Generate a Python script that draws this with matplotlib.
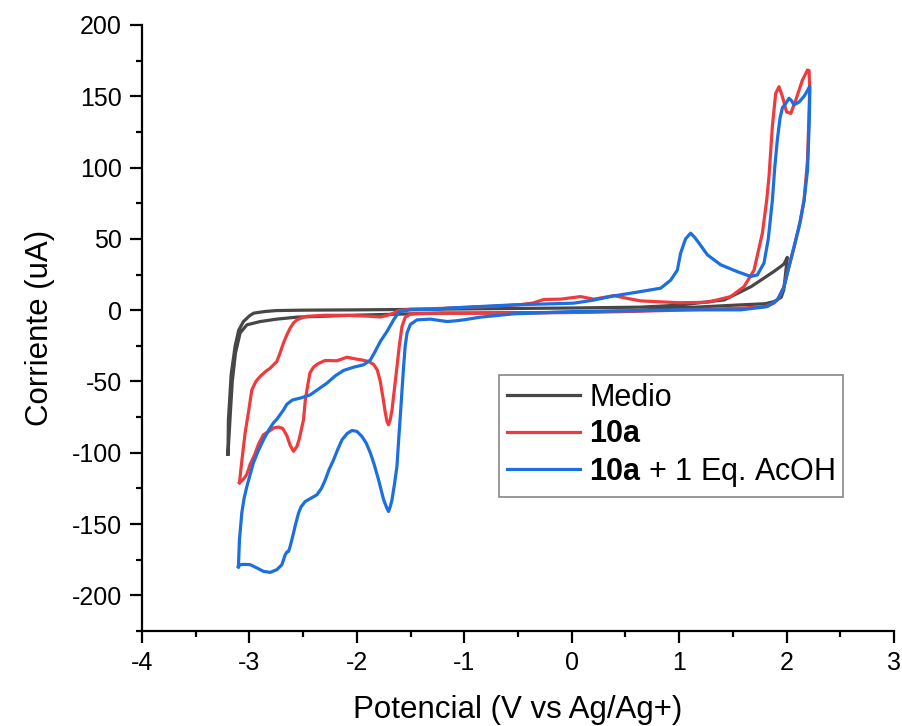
import numpy as np
import matplotlib
matplotlib.use('Agg')
import matplotlib.pyplot as plt
from matplotlib.ticker import MultipleLocator

plt.rcParams['font.family'] = ['Liberation Sans', 'DejaVu Sans']
plt.rcParams['mathtext.fontset'] = 'custom'
plt.rcParams['mathtext.rm'] = 'Liberation Sans'
plt.rcParams['mathtext.bf'] = 'Liberation Sans:bold'
plt.rcParams['axes.unicode_minus'] = False

# Medio (blank) - closed loop, left vertex -> right vertex -> back
medio_v = [-3.2, -3.196, -3.17, -3.133, -3.1, -3.056, -3.0, -2.96, -2.85, -2.75, -2.5, -2.0,
           -1.5, -1.22, -0.5, 0.0, 0.64, 1.0, 1.42, 1.67, 1.8, 1.88, 1.946, 1.977, 2.007,
           1.99, 1.974, 1.95, 1.884, 1.8, 1.573, 1.0, 0.64, 0.0, -0.5, -1.22, -2.0, -2.56,
           -2.745, -2.9, -3.024, -3.087, -3.13, -3.16, -3.18, -3.2]
medio_i = [-101, -77, -45, -25, -14, -8, -4, -2.1, -0.9, -0.3, 0, 0.2,
           0.5, 0.7, 1.2, 1.5, 2.1, 3.5, 7.2, 16.5, 23, 27, 30.6, 32.5, 37,
           25, 14.2, 9, 6, 4.5, 3.7, 1.5, -0.3, -1.5, -1.8, -2.1, -3.5, -4.9,
           -6.3, -8, -10.3, -16, -30, -50, -75, -101]

# 10a
red_v = [-3.093, -3.07, -3.04, -3.01, -2.978, -2.94, -2.9, -2.85, -2.807, -2.745, -2.715,
         -2.683, -2.65, -2.621, -2.59, -2.558, -2.5, -2.465, -2.3, -2.1, -1.9, -1.782, -1.72,
         -1.658, -1.61, -1.5, -1.22, -0.8, -0.5, -0.36, -0.26, -0.105, 0.082, 0.206, 0.393,
         0.5, 0.64, 1.0, 1.263, 1.48, 1.604, 1.697, 1.775, 1.815, 1.837, 1.868, 1.899, 1.93,
         1.962, 2.0, 2.04, 2.086, 2.148, 2.195, 2.21,
         2.215, 2.21, 2.195, 2.163, 2.13, 2.101, 2.07, 2.039, 2.0, 1.977, 1.93, 1.884, 1.8,
         1.573, 1.0, 0.5, 0.0, -0.5, -1.0, -1.223, -1.44, -1.502, -1.55, -1.58, -1.605,
         -1.627, -1.65, -1.673, -1.69, -1.705, -1.72, -1.735, -1.76, -1.782, -1.81, -1.845,
         -1.891, -1.95, -2.0, -2.092, -2.186, -2.295, -2.36, -2.404, -2.437, -2.465, -2.48,
         -2.497, -2.512, -2.535, -2.558, -2.59, -2.62, -2.652, -2.69, -2.73, -2.77, -2.807,
         -2.87, -2.916, -2.95, -2.993, -3.024, -3.055, -3.093]
red_i = [-121, -105, -86, -72, -56, -50, -46.5, -43, -40.7, -36, -30,
         -23, -17, -12.6, -9, -6.8, -5, -4.3, -3.6, -3.6, -4.2, -4.8, -3.8,
         -2.1, -0.3, 0.7, 1.2, 2.5, 3.7, 5, 7.5, 7.7, 9.5, 7.7, 10.2,
         8.5, 6.5, 5.2, 5.5, 9.5, 16.5, 28, 54, 77, 94, 129, 152, 156.7,
         149.7, 139, 138, 147.4, 161.4, 168.4, 168,
         155, 140, 105, 77, 63, 54, 44, 35.3, 24, 16.5, 9, 4.9, 2.5,
         1.4, 0, -1, -1.7, -2, -2.2, -2.1, -2.3, -2.8, -5, -11.5, -25,
         -40, -55, -70, -77, -80.4, -78, -72, -60, -50, -42, -38,
         -36, -35, -34.4, -33, -35.5, -35.3, -37.5, -40, -44, -56, -63,
         -77, -82, -90, -95.6, -99, -95, -88, -83, -82, -82.5, -84.4,
         -87.4, -94, -101, -108, -115, -118.5, -121]

# 10a + 1 Eq. AcOH
blue_v = [-3.103, -3.093, -3.071, -3.05, -3.024, -2.963, -2.92, -2.87, -2.82, -2.776, -2.745,
          -2.683, -2.652, -2.6, -2.528, -2.434, -2.35, -2.279, -2.2, -2.124, -2.03, -1.937,
          -1.875, -1.83, -1.782, -1.72, -1.69, -1.658, -1.62, -1.596, -1.502, -1.223, -1.16,
          -0.54, 0.02, 0.2, 0.393, 0.64, 0.828, 0.921, 0.983, 1.014, 1.06, 1.107, 1.145, 1.185,
          1.263, 1.387, 1.542, 1.667, 1.728, 1.79, 1.83, 1.868, 1.89, 1.915, 1.94, 1.962, 1.993,
          2.023, 2.045, 2.07, 2.117, 2.163, 2.195, 2.216,
          2.215, 2.21, 2.195, 2.163, 2.117, 2.07, 2.023, 1.977, 1.915, 1.822, 1.573, 1.014,
          0.5, 0.02, -0.228, -0.54, -0.85, -1.005, -1.08, -1.16, -1.316, -1.44, -1.502, -1.533,
          -1.55, -1.565, -1.58, -1.596, -1.612, -1.627, -1.65, -1.673, -1.69, -1.705, -1.72,
          -1.751, -1.775, -1.798, -1.84, -1.875, -1.915, -1.953, -2.0, -2.046, -2.09, -2.139,
          -2.18, -2.217, -2.26, -2.294, -2.33, -2.372, -2.43, -2.481, -2.52, -2.543, -2.57,
          -2.59, -2.621, -2.636, -2.65, -2.667, -2.698, -2.745, -2.807, -2.87, -2.931, -2.993,
          -3.05, -3.087, -3.103]
blue_i = [-180, -161, -142, -132, -123.6, -107, -99, -91, -84, -79, -76.5,
          -70, -66, -63, -61.7, -59.4, -55, -51.2, -46, -42.3, -40, -38.3,
          -35, -29, -22, -15, -11, -6.8, -2.5, -1, 0.2, 0.7, 1.4,
          3.7, 4.9, 7, 10, 13, 15.4, 21, 28, 40, 50, 54, 51, 47,
          38.8, 31.8, 27, 23.6, 24.7, 33, 50, 77, 100, 120, 135, 142, 145,
          148.6, 147, 144, 146, 150, 154, 157,
          145, 128.7, 98, 77, 58.6, 44.6, 30.6, 16.5, 7.2, 2.5, 0.2, 0.2,
          -0.5, -1, -1.7, -2.6, -4.9, -6.8, -7.5, -8, -6.3, -6.8, -10, -16,
          -25, -39.5, -57, -74.6, -92, -109.6, -122, -133, -138, -141.2, -139,
          -133, -126, -119, -108, -100, -93, -88.6, -85, -84.4, -86.5, -91,
          -98, -105, -112, -119, -125, -129.5, -132, -134.2, -138, -142.3, -150,
          -156.3, -165.7, -169.2, -169.5, -171.5, -178.5, -182, -183.9, -183.2, -180.8, -178.5,
          -178.3, -178.5, -180]

fig = plt.figure(figsize=(9.03, 7.26), dpi=100)
ax = fig.add_axes([0.1573, 0.1309, 0.8327, 0.8347])

ax.plot(medio_v, medio_i, color='#474747', lw=2.3, label='Medio')
ax.plot(red_v, red_i, color='#ef3b3e', lw=2.3, label=r'$\mathbf{10a}$')
ax.plot(blue_v, blue_i, color='#1c6fe0', lw=2.3, label=r'$\mathbf{10a}$ + 1 Eq. AcOH')

ax.set_xlim(-4, 3)
ax.set_ylim(-225, 200)
ax.xaxis.set_major_locator(MultipleLocator(1))
ax.xaxis.set_minor_locator(MultipleLocator(0.5))
ax.yaxis.set_major_locator(MultipleLocator(50))
ax.yaxis.set_minor_locator(MultipleLocator(25))

for s in ['top', 'right']:
    ax.spines[s].set_visible(False)
for s in ['left', 'bottom']:
    ax.spines[s].set_linewidth(1.6)
    ax.spines[s].set_color('black')

ax.tick_params(which='major', direction='out', length=8.5, width=1.6, labelsize=18, pad=6)
ax.tick_params(which='minor', direction='out', length=4.5, width=1.6)

ax.set_xlabel('Potencial (V vs Ag/Ag+)', fontsize=22.5, labelpad=14)
ax.set_ylabel('Corriente (uA)', fontsize=22.5, labelpad=12)

leg = ax.legend(loc='upper left', bbox_to_anchor=(0.4747, 0.4224), fontsize=22,
                frameon=True, fancybox=False, framealpha=1, edgecolor='#888888',
                handlelength=2.4, handletextpad=0.3, labelspacing=0.22,
                borderpad=0.25, borderaxespad=0)
leg.get_frame().set_linewidth(1.2)

fig.savefig('out.png', dpi=100)
